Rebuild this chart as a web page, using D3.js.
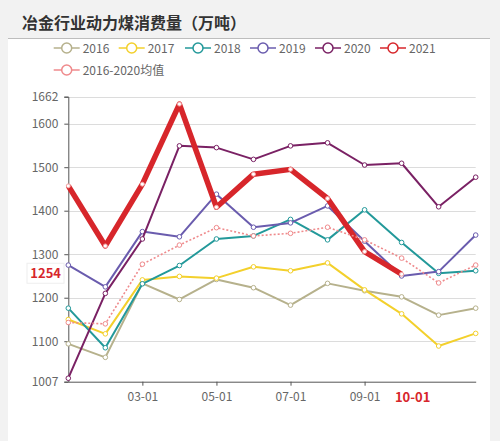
<!DOCTYPE html>
<html>
<head>
<meta charset="utf-8">
<script src="https://cdn.jsdelivr.net/npm/d3@7"></script>
<style>
  body { margin: 0; background: #f2f2f2; }
  svg text { font-family: "Noto Sans CJK SC", "Noto Sans", sans-serif; }
</style>
</head>
<body>
<div class="container"></div>
<script>
// monthly values
const months = ["01-01", "02-01", "03-01", "04-01", "05-01", "06-01", "07-01", "08-01", "09-01", "10-01", "11-01", "12-01"];
const tickMonths = ["03-01", "05-01", "07-01", "09-01"];
const yTicks = [1007, 1100, 1200, 1300, 1400, 1500, 1600, 1662];

const v2016 = [1094, 1063, 1233, 1196, 1242, 1223, 1183, 1233, 1216, 1202, 1160, 1176];
const v2017 = [1150, 1117, 1241, 1249, 1245, 1271, 1262, 1280, 1218, 1163, 1089, 1118];
const v2018 = [1176, 1085, 1232, 1274, 1335, 1342, 1380, 1333, 1402, 1327, 1256, 1262];
const v2019 = [1275, 1225, 1352, 1340, 1438, 1362, 1372, 1411, 1330, 1250, 1260, 1344];
const v2020 = [1015, 1210, 1335, 1549, 1545, 1518, 1549, 1556, 1505, 1509, 1409, 1477];
const v2021 = [1457, 1319, 1461, 1645, 1408, 1484, 1495, 1428, 1306, 1254];
const vAvg = [1143, 1140, 1277, 1321, 1361, 1342, 1348, 1362, 1333, 1291, 1234, 1275];

const markValue = 1254;
const markMonth = "10-01";

const width = 500, height = 441;

const svg = d3.select(".container")
    .append("svg")
    .attr("width", width)
    .attr("height", height);

// panel
svg.append("rect")
    .attr("x", 8).attr("y", 38)
    .attr("width", 482).attr("height", height - 38)
    .attr("fill", "#fff");
svg.append("line")
    .attr("x1", 8).attr("x2", 490)
    .attr("y1", 38.5).attr("y2", 38.5)
    .attr("stroke", "#bdbdbd");

svg.append("text")
    .attr("x", 22).attr("y", 29)
    .attr("font-size", "16px")
    .attr("font-weight", "bold")
    .attr("fill", "#333")
    .text("冶金行业动力煤消费量（万吨）");

const x = d3.scalePoint().domain(months).range([68.3, 475.7]);
const y = d3.scaleLinear().domain([1007, 1662]).range([381.7, 96.7]);

// grid
svg.append("g")
    .selectAll("line")
    .data(yTicks.filter((d) => d !== 1007))
    .enter()
    .append("line")
    .attr("x1", x.range()[0]).attr("x2", x.range()[1])
    .attr("y1", (d) => Math.round(y(d)) + 0.5)
    .attr("y2", (d) => Math.round(y(d)) + 0.5)
    .attr("stroke", "#dcdcdc");

// y axis
const yAxis = svg.append("g")
    .attr("transform", `translate(${x.range()[0]},0)`)
    .call(d3.axisLeft(y).tickValues(yTicks).tickSize(4).tickPadding(6).tickFormat(d3.format("d")));
yAxis.select(".domain").attr("stroke", "#555");
yAxis.selectAll(".tick line").attr("stroke", "#555");
yAxis.selectAll("text").attr("font-size", "12px").attr("fill", "#666");

// x axis
const xAxis = svg.append("g")
    .attr("transform", `translate(0,${y(1007)})`)
    .call(d3.axisBottom(x).tickValues(tickMonths).tickSize(4).tickPadding(7).tickSizeOuter(0));
xAxis.select(".domain").attr("stroke", "#555");
xAxis.selectAll(".tick line").attr("stroke", "#555");
xAxis.selectAll("text").attr("font-size", "12px").attr("fill", "#666");

const series = [
    { name: "2016", values: v2016, color: "#b6b18c", width: 2 },
    { name: "2017", values: v2017, color: "#f3d02c", width: 2 },
    { name: "2018", values: v2018, color: "#23999a", width: 2 },
    { name: "2019", values: v2019, color: "#6a5cae", width: 2 },
    { name: "2020", values: v2020, color: "#7a2164", width: 2 },
    { name: "2021", values: v2021, color: "#d7262b", width: 5.5 },
    { name: "2016-2020均值", values: vAvg, color: "#ef8a8c", width: 1.6, dash: "2,2" },
];

const line = d3.line()
    .x((d, i) => x(months[i]))
    .y((d) => y(d));

series.forEach((s) => {
    const g = svg.append("g");
    g.append("path")
        .attr("d", line(s.values))
        .attr("fill", "none")
        .attr("stroke", s.color)
        .attr("stroke-width", s.width)
        .attr("stroke-linejoin", "round")
        .attr("stroke-dasharray", s.dash || null);
    g.selectAll("circle")
        .data(s.values)
        .enter()
        .append("circle")
        .attr("cx", (d, i) => x(months[i]))
        .attr("cy", (d) => y(d))
        .attr("r", s.name === "2021" ? 2 : 2.3)
        .attr("fill", "#fff")
        .attr("stroke", s.name === "2021" ? "#f3a0a0" : s.color)
        .attr("stroke-width", 1);
});

// highlighted value on the axes
svg.append("rect")
    .attr("x", 27).attr("y", y(markValue) - 11)
    .attr("width", 37).attr("height", 20)
    .attr("fill", "#fff")
    .attr("stroke", "#eee");
svg.append("text")
    .attr("x", 61).attr("y", y(markValue) + 4)
    .attr("text-anchor", "end")
    .attr("font-size", "13px")
    .attr("font-weight", "bold")
    .attr("fill", "#d7262b")
    .text(markValue);
svg.append("text")
    .attr("x", x(markMonth) + 11).attr("y", y(1007) + 20)
    .attr("text-anchor", "middle")
    .attr("font-size", "13px")
    .attr("font-weight", "bold")
    .attr("fill", "#d7262b")
    .text(markMonth);

// legend
const legendPos = [
    [66.7, 48], [131.7, 48], [198, 48], [263, 48], [328, 48], [393, 48], [66.7, 70],
];
series.forEach((s, i) => {
    const [cx, cy] = legendPos[i];
    const g = svg.append("g").attr("transform", `translate(${cx},${cy})`);
    g.append("line")
        .attr("x1", -13).attr("x2", 13)
        .attr("stroke", s.color).attr("stroke-width", 1.5);
    g.append("circle")
        .attr("r", 5)
        .attr("fill", "#fff")
        .attr("stroke", s.color)
        .attr("stroke-width", 1.5);
    g.append("text")
        .attr("x", 16).attr("y", 4.5)
        .attr("font-size", "12px")
        .attr("fill", "#666")
        .text(s.name);
});
</script>
</body>
</html>
